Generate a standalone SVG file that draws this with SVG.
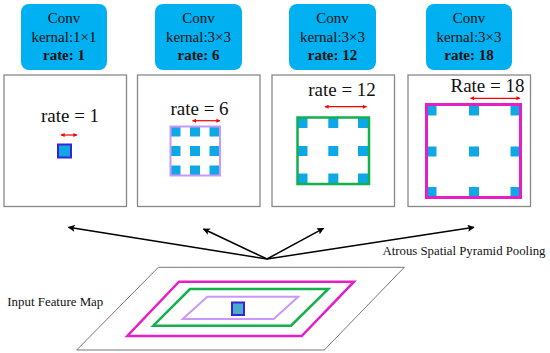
<svg xmlns="http://www.w3.org/2000/svg" width="550" height="353" viewBox="0 0 550 353">
<style>
.conv{fill:#00b0f0;}
.t{font-family:"Liberation Serif","Times New Roman",serif;fill:#111;text-anchor:middle;}
.ct{font-size:15px;}
.b{font-weight:bold;}
.rt{font-size:19px;}
.lbl{font-family:"Liberation Serif","Times New Roman",serif;fill:#111;font-size:13px;}
.panel{fill:#fff;stroke:#888;stroke-width:1.3;}
.dot{fill:#0ea8e6;}
.red{stroke:#f00;stroke-width:1.2;fill:none;marker-start:url(#ra);marker-end:url(#ra);}
.arr{stroke:#000;stroke-width:1.5;fill:none;marker-end:url(#ba);}
</style>
<defs>
<marker id="ra" viewBox="0 0 10 10" refX="9" refY="5" markerWidth="5" markerHeight="4" markerUnits="userSpaceOnUse" orient="auto-start-reverse">
<path d="M0,0 L10,5 L0,10 z" fill="#f00"/>
</marker>
<marker id="ba" viewBox="0 0 10 10" refX="9" refY="5" markerWidth="10" markerHeight="7" markerUnits="userSpaceOnUse" orient="auto">
<path d="M0,0 L10,5 L0,10 L2,5 z" fill="#000"/>
</marker>
</defs>
<rect width="550" height="353" fill="#fff"/>

<g id="conv1">
<rect class="conv" x="21" y="4" width="86" height="66" rx="8"/>
<text class="t ct" x="64" y="23">Conv</text>
<text class="t ct" x="64" y="41.5">kernal:1×1</text>
<text class="t ct b" x="64" y="60">rate: 1</text>
</g>
<g id="conv2">
<rect class="conv" x="155" y="4" width="87" height="66" rx="8"/>
<text class="t ct" x="198.5" y="23">Conv</text>
<text class="t ct" x="198.5" y="41.5">kernal:3×3</text>
<text class="t ct b" x="198.5" y="60">rate: 6</text>
</g>
<g id="conv3">
<rect class="conv" x="289" y="4" width="87" height="66" rx="8"/>
<text class="t ct" x="332.5" y="23">Conv</text>
<text class="t ct" x="332.5" y="41.5">kernal:3×3</text>
<text class="t ct b" x="332.5" y="60">rate: 12</text>
</g>
<g id="conv4">
<rect class="conv" x="426" y="4" width="86" height="66" rx="8"/>
<text class="t ct" x="469" y="23">Conv</text>
<text class="t ct" x="469" y="41.5">kernal:3×3</text>
<text class="t ct b" x="469" y="60">rate: 18</text>
</g>

<g id="panel1">
<rect class="panel" x="4" y="75" width="122.5" height="131.5"/>
<text class="t rt" x="70" y="122">rate = 1</text>
<line class="red" x1="61" y1="135" x2="77" y2="135"/>
<rect x="58" y="144.5" width="13" height="13" fill="#0ea8e6" stroke="#3a22d8" stroke-width="2"/>
</g>

<g id="panel2">
<rect class="panel" x="137.5" y="75" width="122.5" height="131.5"/>
<text class="t rt" x="199.5" y="115">rate = 6</text>
<line class="red" x1="192.5" y1="120.7" x2="220" y2="120.7"/>
<rect class="dot" x="170.5" y="126.5" width="10" height="10"/>
<rect class="dot" x="190" y="126.5" width="10" height="10"/>
<rect class="dot" x="209.5" y="126.5" width="10" height="10"/>
<rect class="dot" x="170.5" y="146" width="10" height="10"/>
<rect class="dot" x="190" y="146" width="10" height="10"/>
<rect class="dot" x="209.5" y="146" width="10" height="10"/>
<rect class="dot" x="170.5" y="165.5" width="10" height="10"/>
<rect class="dot" x="190" y="165.5" width="10" height="10"/>
<rect class="dot" x="209.5" y="165.5" width="10" height="10"/>
<rect x="170.5" y="126.5" width="49.5" height="49" fill="none" stroke="#c899f8" stroke-width="2"/>
</g>

<g id="panel3">
<rect class="panel" x="272" y="75" width="122.5" height="131.5"/>
<text class="t rt" x="342" y="95.5">rate = 12</text>
<line class="red" x1="325" y1="106.7" x2="366.5" y2="106.7"/>
<rect class="dot" x="297.5" y="118" width="10" height="10"/>
<rect class="dot" x="328.3" y="118" width="10" height="10"/>
<rect class="dot" x="358" y="118" width="10" height="10"/>
<rect class="dot" x="297.5" y="146" width="10" height="10"/>
<rect class="dot" x="328.3" y="146" width="10" height="10"/>
<rect class="dot" x="358" y="146" width="10" height="10"/>
<rect class="dot" x="297.5" y="173.5" width="10" height="10"/>
<rect class="dot" x="328.3" y="173.5" width="10" height="10"/>
<rect class="dot" x="358" y="173.5" width="10" height="10"/>
<rect x="297.5" y="117.5" width="71.5" height="66.5" fill="none" stroke="#13b04b" stroke-width="2.5"/>
</g>

<g id="panel4">
<rect class="panel" x="408" y="75" width="122.5" height="131.5"/>
<text class="t rt" x="487.5" y="92">Rate = 18</text>
<line class="red" x1="470.5" y1="98.3" x2="520" y2="98.3"/>
<rect class="dot" x="426.5" y="105.5" width="10" height="10"/>
<rect class="dot" x="469" y="105.5" width="10" height="10"/>
<rect class="dot" x="510.5" y="105.5" width="10" height="10"/>
<rect class="dot" x="426.5" y="146.5" width="10" height="10"/>
<rect class="dot" x="469" y="146.5" width="10" height="10"/>
<rect class="dot" x="510.5" y="146.5" width="10" height="10"/>
<rect class="dot" x="426.5" y="187" width="10" height="10"/>
<rect class="dot" x="469" y="187" width="10" height="10"/>
<rect class="dot" x="510.5" y="187" width="10" height="10"/>
<rect x="426.5" y="104.5" width="94" height="93" fill="none" stroke="#e61ec8" stroke-width="3"/>
</g>

<g id="connectors">
<line class="arr" x1="267" y1="259" x2="68.5" y2="227.3"/>
<line class="arr" x1="267" y1="259" x2="203.5" y2="229"/>
<line class="arr" x1="267" y1="259" x2="323.5" y2="228.3"/>
<line class="arr" x1="267" y1="259" x2="474" y2="227.3"/>
</g>

<g id="aspp-label">
<text class="lbl" x="382.5" y="255" textLength="163" lengthAdjust="spacingAndGlyphs">Atrous Spatial Pyramid Pooling</text>
</g>

<g id="input-map">
<polygon points="158.3,267.3 404.3,267.3 324.3,350 76.7,350" fill="#fff" stroke="#777" stroke-width="1"/>
<polygon points="179,281.7 354,281.7 301.7,336 127.3,336" fill="none" stroke="#e61ec8" stroke-width="2.5"/>
<polygon points="190,289 328.3,289 291,325.7 153.3,325.7" fill="none" stroke="#13b04b" stroke-width="2.5"/>
<polygon points="207.3,296.7 298.3,296.7 273.7,319 182.7,319" fill="none" stroke="#c899f8" stroke-width="2"/>
<rect x="232" y="302.5" width="12" height="12.5" fill="#4aaccc" stroke="#3a22d8" stroke-width="2"/>
<text class="lbl" x="7.3" y="305.7" textLength="96" lengthAdjust="spacingAndGlyphs">Input Feature Map</text>
</g>
</svg>
